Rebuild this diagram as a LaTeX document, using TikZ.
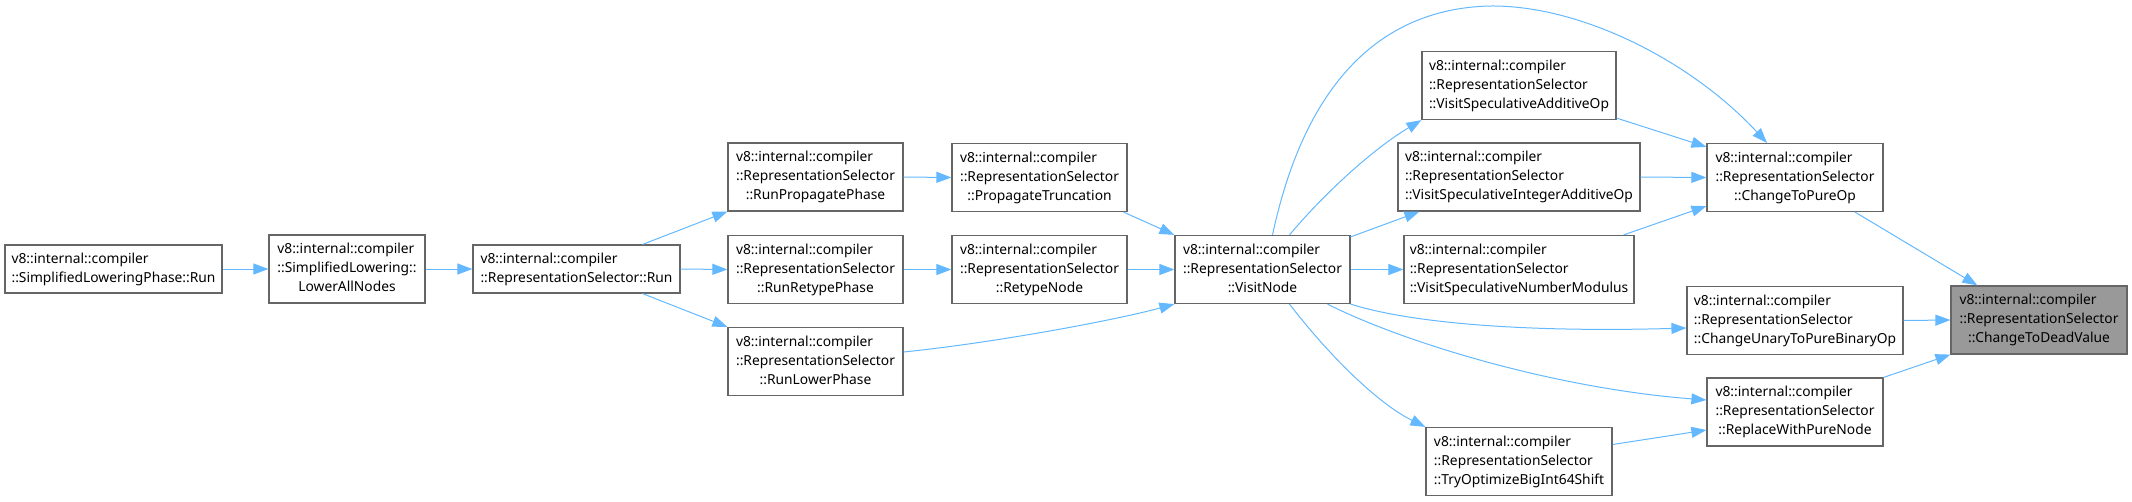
\documentclass[tikz,border=0pt]{standalone}
\usepackage{fontspec}
\setmainfont{Noto Sans}
\usetikzlibrary{arrows.meta}
\definecolor{edgeblue}{HTML}{63B8FF}
\definecolor{boxgray}{HTML}{666666}
\definecolor{fillgray}{HTML}{999999}
\newcommand{\lbl}[2]{\begin{tabular}{@{}l@{}}#1\\\multicolumn{1}{@{}c@{}}{#2}\end{tabular}}
\begin{document}
\begin{tikzpicture}[x=1pt,y=-1pt,
  box/.style={draw=boxgray, line width=1.2pt, fill=white, inner sep=0pt,
    minimum height=68pt, font=\fontsize{13.8}{19}\selectfont},
  twoline/.style={minimum height=48pt},
  edge/.style={draw=edgeblue, line width=1pt, -{Triangle[length=15pt,width=11pt]}}]
\useasboundingbox (0,0) rectangle (2132,501);

\node[box, twoline, minimum width=217pt] (A) at (113.5,269) {\lbl{v8::internal::compiler}{::SimplifiedLoweringPhase::Run}};
\node[box, minimum width=156pt] (B) at (347,269) {\lbl{v8::internal::compiler\\::SimplifiedLowering::}{LowerAllNodes}};
\node[box, twoline, minimum width=207pt] (C) at (576.5,269) {\lbl{v8::internal::compiler}{::RepresentationSelector::Run}};
\node[box, minimum width=175pt] (D) at (815.5,177) {\lbl{v8::internal::compiler\\::RepresentationSelector}{::RunPropagatePhase}};
\node[box, minimum width=175pt] (E) at (815.5,269.5) {\lbl{v8::internal::compiler\\::RepresentationSelector}{::RunRetypePhase}};
\node[box, minimum width=175pt] (F) at (815.5,361.5) {\lbl{v8::internal::compiler\\::RepresentationSelector}{::RunLowerPhase}};
\node[box, minimum width=175pt] (PT) at (1039.5,177.5) {\lbl{v8::internal::compiler\\::RepresentationSelector}{::PropagateTruncation}};
\node[box, minimum width=175pt] (RT) at (1039.5,269.5) {\lbl{v8::internal::compiler\\::RepresentationSelector}{::RetypeNode}};
\node[box, minimum width=175pt] (G) at (1262.5,269.5) {\lbl{v8::internal::compiler\\::RepresentationSelector}{::VisitNode}};
\node[box, minimum width=194pt] (H) at (1519,85.5) {\lbl{v8::internal::compiler\\::RepresentationSelector}{::VisitSpeculativeAdditiveOp}};
\node[box, minimum width=242pt] (I) at (1519,177) {\lbl{v8::internal::compiler\\::RepresentationSelector}{::VisitSpeculativeIntegerAdditiveOp}};
\node[box, minimum width=230pt] (J) at (1519,269.5) {\lbl{v8::internal::compiler\\::RepresentationSelector}{::VisitSpeculativeNumberModulus}};
\node[box, minimum width=186pt] (K) at (1519,461.5) {\lbl{v8::internal::compiler\\::RepresentationSelector}{::TryOptimizeBigInt64Shift}};
\node[box, minimum width=176pt] (L) at (1795,177.5) {\lbl{v8::internal::compiler\\::RepresentationSelector}{::ChangeToPureOp}};
\node[box, minimum width=216pt] (M) at (1795,320.5) {\lbl{v8::internal::compiler\\::RepresentationSelector}{::ChangeUnaryToPureBinaryOp}};
\node[box, minimum width=176pt] (N) at (1795,412) {\lbl{v8::internal::compiler\\::RepresentationSelector}{::ReplaceWithPureNode}};
\node[box, minimum width=176pt, fill=fillgray] (O) at (2039,320) {\lbl{v8::internal::compiler\\::RepresentationSelector}{::ChangeToDeadValue}};

\draw[edge] (A.east) -- (B.west);
\draw[edge] (B.east) -- (C.west);
\draw[edge] ([xshift=-38pt]C.north east) -- (D.south west);
\draw[edge] (C.east) -- (E.west);
\draw[edge] ([xshift=-38pt]C.south east) -- (F.north west);
\draw[edge] (D.east) -- (PT.west);
\draw[edge] (E.east) -- (RT.west);
\draw[edge] ([xshift=-4pt]PT.south east) -- (G.north west);
\draw[edge] (RT.east) -- (G.west);
\draw[edge] ([yshift=9.5pt]F.east) .. controls +(97,-10) and +(-55,15) .. (G.south west);
\draw[edge] ([xshift=27pt]G.north) .. controls +(30,-36) and +(-52,31) .. (H.south west);
\draw[edge] ([yshift=-2pt]G.north east) -- ([xshift=22pt]I.south west);
\draw[edge] (G.east) -- (J.west);
\draw[edge] ([xshift=10pt]G.north) .. controls (1310,60) and (1400,8) .. (1490,6)
  .. controls (1580,5) and (1690,60) .. ([xshift=-28pt]L.north);
\draw[edge] ([yshift=2pt]H.south east) -- ([yshift=-4pt]L.north west);
\draw[edge] (I.east) -- (L.west);
\draw[edge] ([xshift=-11pt]J.north east) -- ([yshift=6pt]L.south west);
\draw[edge] (G.south east) .. controls +(70,22) and +(-137,4) .. ([yshift=-7.5pt]M.west);
\draw[edge] ([xshift=65pt]G.south) .. controls +(73,37) and +(-155,-12) .. ([yshift=12pt]N.west);
\draw[edge] ([xshift=27pt]G.south) .. controls +(40,52) and +(-47,-23) .. (K.north west);
\draw[edge] ([yshift=17pt]K.east) -- ([yshift=-18pt]N.west);
\draw[edge] ([xshift=60pt]L.south) -- ([xshift=27pt]O.north west);
\draw[edge] (M.east) -- (O.west);
\draw[edge] (N.north east) -- (O.south west);
\end{tikzpicture}
\end{document}
